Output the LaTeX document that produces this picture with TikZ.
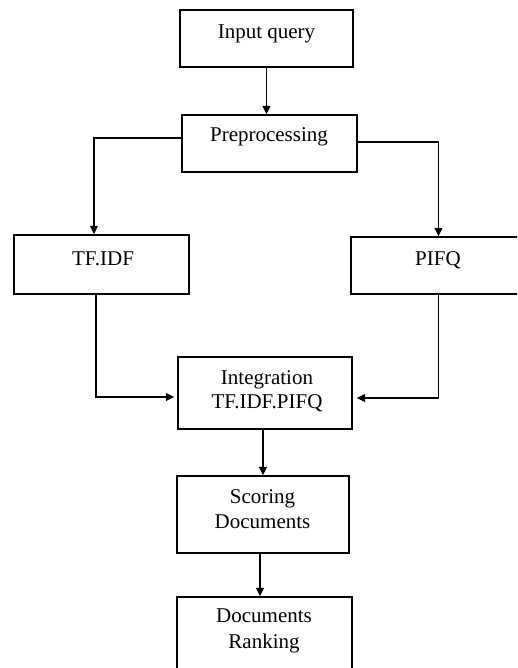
\documentclass[tikz,border=0pt]{standalone}
\usepackage{fontspec}
\setmainfont{Liberation Serif}
\usetikzlibrary{arrows.meta}
\begin{document}
\begin{tikzpicture}[x=1pt,y=-1pt,
  box/.style={draw=black,line width=1.4pt,rectangle,inner sep=0pt},
  txt/.style={anchor=base,inner sep=0pt,font=\fontsize{21}{25}\selectfont},
  arr/.style={draw=black,line width=1.3pt,-{Triangle[length=8.5pt,width=8pt]}}]
\useasboundingbox (0,0) rectangle (517,668);
\clip (0,0) rectangle (517,668);
\fill[white] (0,0) rectangle (517,668);
% boxes
\node[box,minimum width=173pt,minimum height=57pt] (inq) at (266.5,38.5) {};
\node[box,minimum width=175pt,minimum height=57pt] (pre) at (269.5,143.5) {};
\node[box,minimum width=175pt,minimum height=59pt] (tfidf) at (101.5,264.5) {};
\node[box,minimum width=175pt,minimum height=57pt] (pifq) at (438.5,265.5) {};
\node[box,minimum width=174pt,minimum height=72pt] (integ) at (265,393) {};
\node[box,minimum width=172pt,minimum height=77pt] (score) at (263,514.5) {};
\node[box,minimum width=175pt,minimum height=83pt] (rank) at (264.5,638.5) {};
% texts
\node[txt] (inqT) at (266.5,39) {Input query};
\node[txt] (preT) at (269,142) {Preprocessing};
\node[txt] (tfidfT) at (103,265) {TF.IDF};
\node[txt] (pifqT) at (438,265) {PIFQ};
\node[txt] (integT1) at (267,384) {Integration};
\node[txt] (integT2) at (267,408) {TF.IDF.PIFQ};
\node[txt] (scoreT1) at (262.5,503) {Scoring};
\node[txt] (scoreT2) at (262.5,528) {Documents};
\node[txt] (rankT1) at (264,622) {Documents};
\node[txt] (rankT2) at (264,648) {Ranking};
% connectors
\draw[arr] (inq.south) -- (inq.south |- pre.north);
\draw[arr] ([yshift=5.5pt]pre.west) -| ([xshift=-7.5pt]tfidf.north);
\draw[arr] ([yshift=1.5pt]pre.east) -| (pifq.north);
\draw[arr,shorten >=3pt] ([xshift=-5.5pt]tfidf.south) |- ([yshift=-4pt]integ.west);
\draw[arr,shorten >=4pt] (pifq.south) |- ([yshift=-5pt]integ.east);
\draw[arr] (score.north |- integ.south) -- (score.north);
\draw[arr] ([xshift=-3pt]score.south) -- ([xshift=-3pt]score.south |- rank.north);
\end{tikzpicture}
\end{document}
